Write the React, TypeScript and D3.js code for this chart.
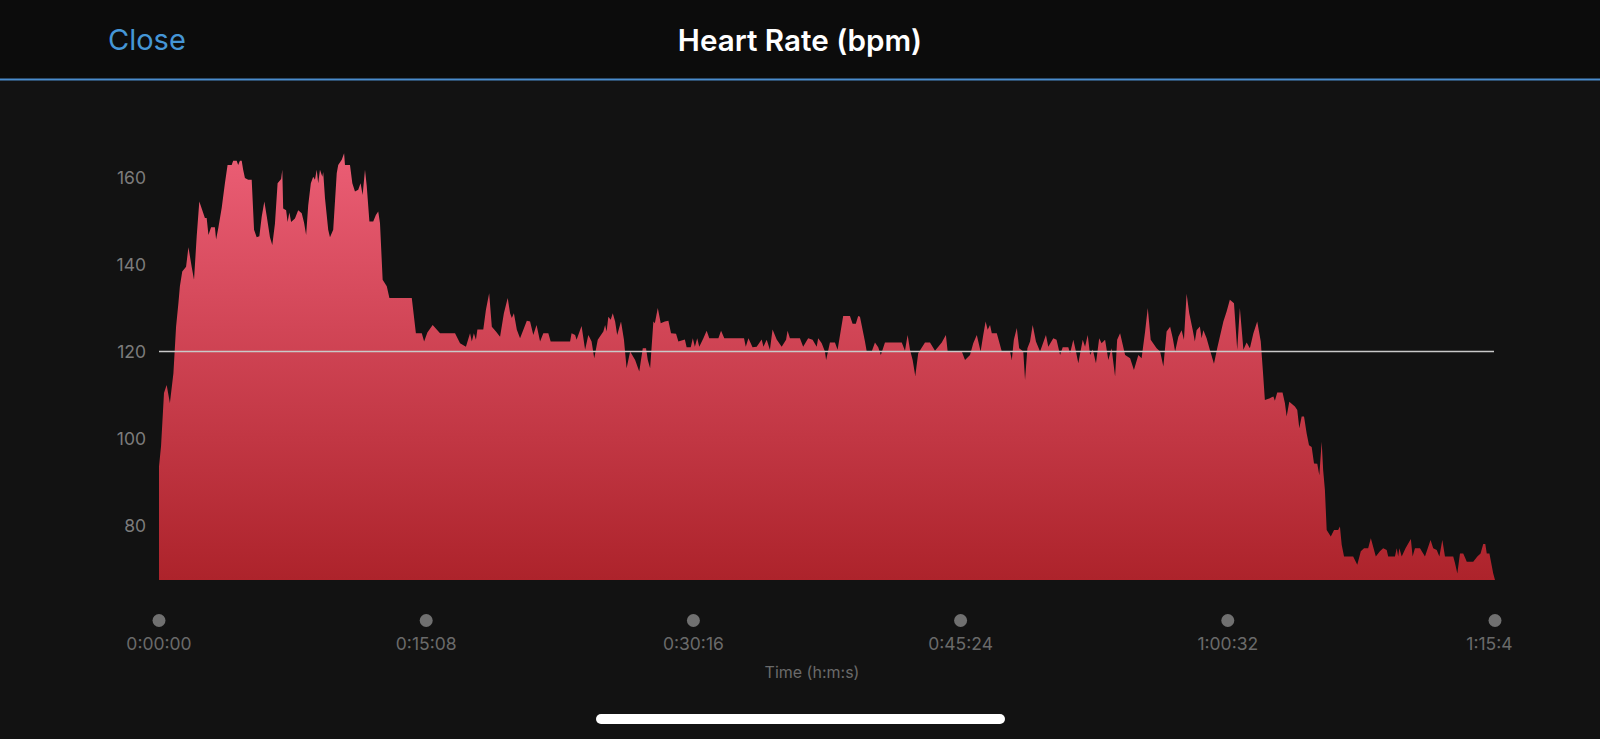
import React from "react";
import * as d3 from "d3";

// elapsed seconds
const times: number[] = [
  0, 7, 17, 26, 37, 49, 58, 66, 71, 79, 92, 100, 111, 119, 128, 137, 156, 162, 168, 177,
  190, 194, 202, 213, 224, 233, 247, 252, 264, 269, 275, 281, 286, 292, 303, 315, 323, 332, 341, 349,
  358, 366, 377, 385, 394, 403, 415, 419, 422, 432, 437, 443, 449, 462, 473, 485, 493, 500, 507, 516,
  524, 530, 536, 541, 547, 555, 558, 564, 575, 581, 592, 604, 609, 621, 629, 632, 649, 657, 666, 677,
  685, 692, 700, 706, 715, 728, 737, 745, 751, 760, 774, 783, 859, 873, 893, 901, 912, 930, 955, 1006,
  1023, 1043, 1057, 1063, 1070, 1077, 1082, 1102, 1111, 1122, 1131, 1145, 1159, 1172, 1185, 1193, 1199, 1206, 1216, 1227,
  1250, 1261, 1272, 1283, 1295, 1306, 1323, 1331, 1397, 1402, 1414, 1419, 1436, 1448, 1459, 1470, 1479, 1491, 1510, 1516,
  1521, 1527, 1535, 1542, 1550, 1557, 1570, 1580, 1589, 1601, 1618, 1632, 1644, 1655, 1661, 1669, 1680, 1685, 1695, 1705,
  1719, 1731, 1740, 1757, 1765, 1787, 1793, 1807, 1814, 1821, 1829, 1836, 1850, 1861, 1870, 1901, 1910, 1921, 1988, 1994,
  2003, 2017, 2031, 2048, 2054, 2065, 2076, 2085, 2099, 2116, 2131, 2136, 2144, 2178, 2189, 2206, 2221, 2235, 2240, 2252,
  2263, 2267, 2280, 2297, 2306, 2325, 2348, 2357, 2368, 2376, 2382, 2399, 2405, 2422, 2433, 2444, 2453, 2467, 2524, 2535,
  2544, 2552, 2561, 2570, 2580, 2603, 2620, 2637, 2660, 2674, 2680, 2728, 2739, 2756, 2767, 2779, 2792, 2801, 2809, 2816,
  2824, 2830, 2847, 2864, 2892, 2898, 2905, 2915, 2923, 2937, 2943, 2951, 2960, 2969, 2980, 2994, 3014, 3022, 3039, 3050,
  3062, 3071, 3090, 3096, 3107, 3116, 3124, 3139, 3147, 3156, 3164, 3173, 3184, 3195, 3203, 3215, 3226, 3237, 3249, 3256,
  3266, 3283, 3300, 3313, 3328, 3339, 3351, 3360, 3370, 3390, 3402, 3413, 3424, 3436, 3445, 3453, 3464, 3475, 3483, 3492,
  3501, 3513, 3520, 3526, 3537, 3543, 3549, 3560, 3571, 3585, 3596, 3617, 3628, 3639, 3653, 3664, 3673, 3685, 3696, 3707,
  3719, 3732, 3744, 3751, 3758, 3775, 3787, 3792, 3800, 3818, 3826, 3832, 3841, 3860, 3868, 3875, 3883, 3891, 3900, 3908,
  3917, 3925, 3936, 3943, 3951, 3956, 3962, 3968, 3982, 3993, 4007, 4013, 4019, 4027, 4058, 4072, 4084, 4095, 4109, 4118,
  4135, 4149, 4160, 4172, 4177, 4200, 4206, 4211, 4215, 4223, 4236, 4254, 4260, 4268, 4285, 4302, 4321, 4330, 4342, 4351,
  4361, 4370, 4398, 4404, 4412, 4421, 4432, 4438, 4444, 4466, 4480, 4491, 4500, 4507, 4512, 4521, 4534, 4540,
];

const bpm: number[] = [
  93.6, 98.3, 110.5, 112.3, 108.2, 115, 125.7, 131.2, 135, 138.4, 139.5, 144, 139.5, 136.5, 146.4, 154.5, 150.7, 150.7, 146.8, 148.6,
  148.6, 145.8, 148.6, 153, 158.7, 162.9, 162.9, 163.9, 163.9, 162.9, 163.9, 163.9, 161.8, 159.9, 159.5, 159.5, 148, 146.3, 146.5, 151,
  154.5, 151.2, 146.3, 144.5, 149.4, 158.7, 159.7, 161.8, 152.9, 152.5, 149.8, 152, 149.8, 150.6, 152.5, 151.8, 149.6, 146.8, 153.6, 158.7,
  160.2, 159.5, 161.8, 158.7, 161.8, 160.2, 161.3, 155.3, 148, 146.3, 148, 161, 162.9, 164.1, 165.6, 162.9, 162.9, 158.7, 156.8, 157.2,
  158.7, 156, 161.8, 158, 149.9, 149.9, 151.4, 152.2, 149.5, 136.5, 135, 132.3, 132.3, 124.2, 124.2, 122.3, 124.4, 126.1, 124.2, 124.2,
  121.9, 121.1, 124.2, 122.3, 124.2, 122.7, 125.1, 125.1, 129.6, 133.4, 125.7, 124.6, 123.4, 128.8, 132.3, 128.8, 127.7, 128.8, 125, 123.1,
  127.1, 126.9, 123.8, 126.1, 122.3, 124.2, 124.2, 122.3, 122.3, 124.2, 123.8, 122.7, 125.9, 120.4, 123.8, 122.3, 118.5, 122.7, 124.6, 126.1,
  124.6, 128, 127.3, 128.8, 126.9, 123.8, 126.9, 122.7, 116.2, 120, 118.1, 115.4, 120.8, 120.8, 118.1, 116.2, 126.9, 126.5, 130, 126.5,
  126.9, 127.1, 124.2, 124.1, 122.3, 122.8, 121, 121, 123.1, 121.1, 123.1, 121.1, 123.1, 124.8, 123.1, 123.1, 124.8, 123.1, 123.1, 121.1,
  123.1, 121, 121.1, 122.8, 121.1, 122.7, 120.4, 125.1, 122.8, 121.1, 122.7, 124.8, 123.1, 123.1, 121.1, 123.1, 122.7, 121.1, 123.1, 121.9,
  120, 118.1, 122.1, 122.1, 120.4, 128.2, 128.2, 126.4, 126.4, 128.2, 128, 122.3, 120, 120, 122.1, 121, 119.2, 122.1, 122.1, 120.2,
  123.8, 120.4, 118.1, 114.4, 119.6, 122.1, 122.1, 120.2, 122.1, 123.8, 120, 120, 118.1, 119.2, 121.9, 123.8, 120, 123.8, 126.9, 125,
  126.1, 124.2, 124.2, 120, 120, 118.1, 122.7, 125.4, 120.8, 120, 113.5, 120.8, 122.3, 126.1, 122.3, 120, 123.8, 121.1, 123.1, 122.7,
  119.2, 121, 121, 119.6, 122.7, 120, 117.3, 122.7, 121.1, 123.8, 119.2, 120.5, 117.3, 123.1, 121.9, 122.7, 118.1, 120.8, 114.3, 122.7,
  124.2, 119.2, 118.5, 115.8, 119.2, 118.5, 124.6, 130, 122.7, 120.8, 120, 116.6, 124.6, 125.7, 123.1, 120, 123.4, 124.9, 122.7, 133.3,
  128.8, 124.9, 122.3, 124.9, 125.8, 123.1, 124.9, 123.1, 120.4, 117.2, 120.8, 126.9, 129.2, 131.9, 131.1, 120.4, 130, 120.4, 122.1, 120.8,
  124.2, 126.9, 122.3, 115.8, 108.9, 109.3, 109.7, 108.7, 110.6, 110.6, 108.2, 105.1, 108.5, 107.4, 106.6, 102.4, 105.1, 105.1, 101.2, 98.5,
  98.1, 94.3, 94.2, 91.6, 99.3, 92.8, 88.2, 79, 77.5, 79, 79, 79.8, 75.6, 72.9, 72.9, 71, 74.1, 74.8, 74.8, 77.1,
  72.9, 74.1, 74.8, 74.4, 72.9, 72.9, 74.8, 72.9, 74.8, 72.9, 74.8, 76.9, 72.9, 74.8, 74.8, 72.9, 76.7, 74.8, 74.4, 72.9,
  76.7, 72.9, 72.9, 71.4, 69, 73.6, 73.6, 72.7, 71.7, 71.7, 72.9, 73.6, 75.8, 75.8, 73.6, 73.6, 69, 67.5,
];

const yTicks: number[] = [80, 100, 120, 140, 160];
const xTicks: number[] = [0, 908, 1816, 2724, 3632, 4540];
const xTickLabels: string[] = ["0:00:00", "0:15:08", "0:30:16", "0:45:24", "1:00:32", "1:15:40"];
const referenceBpm = 120;
const title = "Heart Rate (bpm)";
const closeLabel = "Close";
const xAxisTitle = "Time (h:m:s)";

const W = 1600;
const H = 739;
const FONT = "Inter, 'Noto Sans', Roboto, sans-serif";

export default function App() {
  const x = d3.scaleLinear().domain([0, 4540]).range([159, 1495]);
  const y = d3.scaleLinear().domain([67.5, 170]).range([580, 134.1]);
  const data = times.map((t, i) => ({ t, v: bpm[i] }));
  const area = d3
    .area<{ t: number; v: number }>()
    .x((d) => x(d.t))
    .y0(y(67.5))
    .y1((d) => y(d.v))
    .curve(d3.curveLinear);

  return (
    <svg
      width={W}
      height={H}
      viewBox={`0 0 ${W} ${H}`}
      style={{ position: "absolute", left: 0, top: 0, display: "block" }}
    >
      <defs>
        <linearGradient id="hrFill" gradientUnits="userSpaceOnUse" x1={0} x2={0} y1={y(166)} y2={y(67.5)}>
          <stop offset="0%" stopColor="#eb5e75" />
          <stop offset="100%" stopColor="#ad232b" />
        </linearGradient>
        <clipPath id="labelClip">
          <rect x={0} y={0} width={1513} height={H} />
        </clipPath>
      </defs>
      <rect x={0} y={0} width={W} height={H} fill="#121212" />
      <rect x={0} y={0} width={W} height={79} fill="#0c0c0c" />
      <rect x={0} y={78.5} width={W} height={2} fill="#4a8ccc" />
      <text x={108} y={50} fill="#4596d6" fontFamily={FONT} fontSize={29} fontWeight={400}>
        {closeLabel}
      </text>
      <text x={800} y={50.5} fill="#ffffff" fontFamily={FONT} fontSize={29.6} fontWeight={600} textAnchor="middle">
        {title}
      </text>

      <path d={area(data) || ""} fill="url(#hrFill)" />

      <line
        x1={x(0)}
        x2={x(4540) - 1}
        y1={y(referenceBpm)}
        y2={y(referenceBpm)}
        stroke="#c9c9c9"
        strokeWidth={1.5}
      />

      {yTicks.map((v) => (
        <text
          key={v}
          x={146}
          y={y(v)}
          dy="0.35em"
          fill="#7c7c7c"
          fontFamily={FONT}
          fontSize={17.5}
          textAnchor="end"
        >
          {v}
        </text>
      ))}

      <g clipPath="url(#labelClip)">
        {xTicks.map((t, i) => (
          <g key={t}>
            <circle cx={x(t)} cy={620.5} r={6.5} fill="#707070" />
            <text
              x={x(t)}
              y={650}
              fill="#6a6a6a"
              fontFamily={FONT}
              fontSize={17.5}
              textAnchor="middle"
            >
              {xTickLabels[i]}
            </text>
          </g>
        ))}
      </g>
      <text x={812} y={678} fill="#6a6a6a" fontFamily={FONT} fontSize={16} textAnchor="middle">
        {xAxisTitle}
      </text>

      <rect x={596} y={714} width={409} height={10} rx={5} fill="#ffffff" />
    </svg>
  );
}
